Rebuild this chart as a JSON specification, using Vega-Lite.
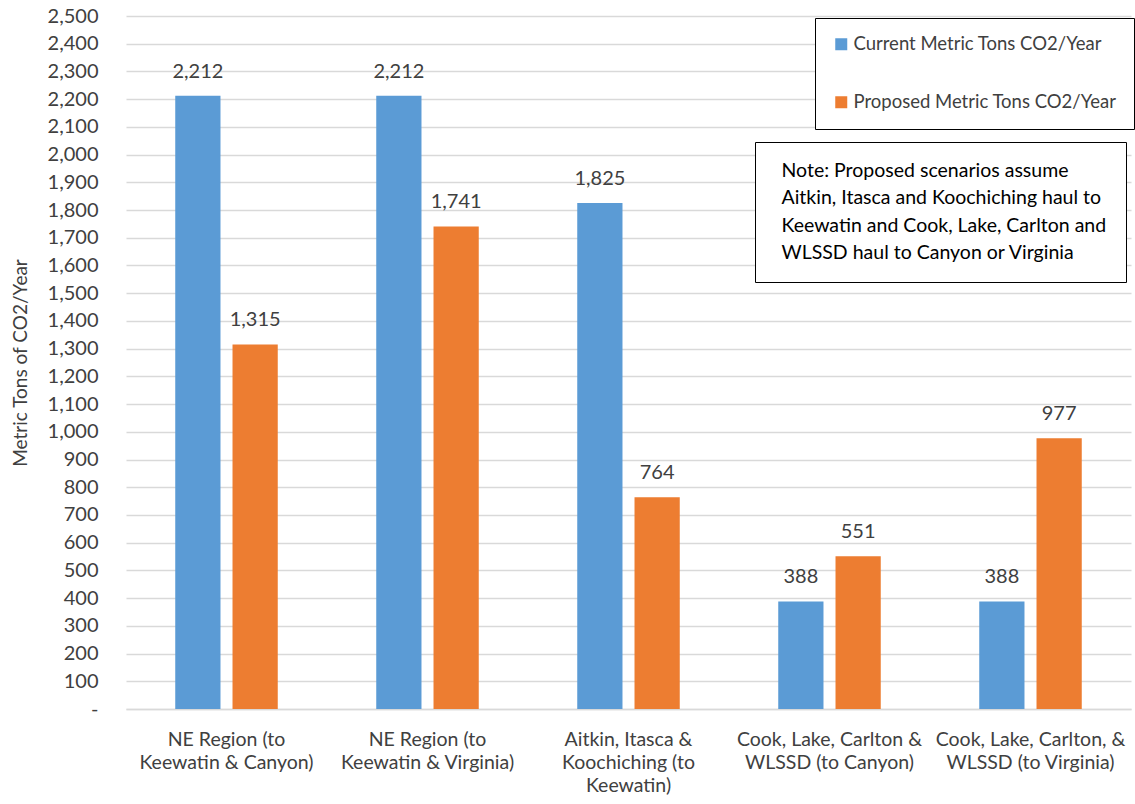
{
  "$schema": "https://vega.github.io/schema/vega-lite/v6.json",
  "width": 1005,
  "height": 693,
  "autosize": {"type": "none"},
  "padding": {"left": 126, "top": 16, "right": 4, "bottom": 95},
  "background": "white",
  "config": {
    "font": "Lato",
    "view": {"stroke": null}
  },
  "layer": [
    {
      "data": {
        "values": [
          {"scenario": "NE Region (to\nKeewatin & Canyon)", "series": "Current Metric Tons CO2/Year", "tons": 2212},
          {"scenario": "NE Region (to\nKeewatin & Canyon)", "series": "Proposed Metric Tons CO2/Year", "tons": 1315},
          {"scenario": "NE Region (to\nKeewatin & Virginia)", "series": "Current Metric Tons CO2/Year", "tons": 2212},
          {"scenario": "NE Region (to\nKeewatin & Virginia)", "series": "Proposed Metric Tons CO2/Year", "tons": 1741},
          {"scenario": "Aitkin, Itasca &\nKoochiching (to\nKeewatin)", "series": "Current Metric Tons CO2/Year", "tons": 1825},
          {"scenario": "Aitkin, Itasca &\nKoochiching (to\nKeewatin)", "series": "Proposed Metric Tons CO2/Year", "tons": 764},
          {"scenario": "Cook, Lake, Carlton &\nWLSSD (to Canyon)", "series": "Current Metric Tons CO2/Year", "tons": 388},
          {"scenario": "Cook, Lake, Carlton &\nWLSSD (to Canyon)", "series": "Proposed Metric Tons CO2/Year", "tons": 551},
          {"scenario": "Cook, Lake, Carlton, &\nWLSSD (to Virginia)", "series": "Current Metric Tons CO2/Year", "tons": 388},
          {"scenario": "Cook, Lake, Carlton, &\nWLSSD (to Virginia)", "series": "Proposed Metric Tons CO2/Year", "tons": 977}
        ]
      },
      "encoding": {
        "x": {
          "field": "scenario",
          "type": "nominal",
          "sort": null,
          "title": null,
          "scale": {"paddingInner": 0.49, "paddingOuter": 0.245},
          "axis": {
            "labelExpr": "split(datum.value, '\\n')",
            "labelAngle": 0,
            "labelFontSize": 19.5,
            "labelColor": "#404040",
            "labelLineHeight": 23,
            "labelPadding": 21,
            "labelLimit": 0,
            "ticks": false,
            "domain": true,
            "domainColor": "#d9d9d9",
            "domainWidth": 1.5,
            "grid": false
          }
        },
        "xOffset": {
          "field": "series",
          "type": "nominal",
          "scale": {"paddingInner": 0.21, "paddingOuter": 0}
        },
        "y": {
          "field": "tons",
          "type": "quantitative",
          "title": "Metric Tons of CO2/Year",
          "scale": {"domain": [0, 2500], "nice": false},
          "axis": {
            "values": [0, 100, 200, 300, 400, 500, 600, 700, 800, 900, 1000, 1100, 1200, 1300, 1400, 1500, 1600, 1700, 1800, 1900, 2000, 2100, 2200, 2300, 2400, 2500],
            "labelExpr": "datum.value === 0 ? '-\u00a0\u00a0\u00a0\u00a0' : format(datum.value, ',')",
            "labelFontSize": 20,
            "labelColor": "#404040",
            "labelPadding": 28,
            "ticks": false,
            "domain": false,
            "grid": true,
            "gridColor": "#d9d9d9",
            "gridWidth": 1.5,
            "titleFontSize": 19,
            "titleFontWeight": "normal",
            "titleColor": "#404040",
            "titlePadding": 17
          }
        }
      },
      "layer": [
        {
          "mark": {"type": "bar"},
          "encoding": {
            "color": {
              "field": "series",
              "type": "nominal",
              "scale": {"range": ["#5b9bd5", "#ed7d31"]},
              "legend": {
                "orient": "none",
                "legendX": 689,
                "legendY": 2,
                "title": null,
                "symbolType": "square",
                "symbolSize": 144,
                "symbolStrokeWidth": 0,
                "labelFontSize": 18.5,
                "labelColor": "#404040",
                "labelLimit": 0,
                "labelOffset": 3,
                "rowPadding": 39,
                "padding": 17,
                "strokeColor": "black",
                "fillColor": "white"
              }
            }
          }
        },
        {
          "mark": {"type": "text", "baseline": "bottom", "dy": -14, "fontSize": 20, "color": "#404040"},
          "encoding": {
            "text": {"field": "tons", "type": "quantitative", "format": ",.0f"}
          }
        }
      ]
    },
    {
      "data": {
        "values": [
          {"line": "Note: Proposed scenarios assume"},
          {"line": "Aitkin, Itasca and Koochiching haul to"},
          {"line": "Keewatin and Cook, Lake, Carlton and"},
          {"line": "WLSSD haul to Canyon or Virginia"}
        ]
      },
      "mark": {"type": "text", "opacity": 0},
      "encoding": {
        "opacity": {
          "field": "line",
          "type": "ordinal",
          "sort": null,
          "legend": {
            "orient": "none",
            "legendX": 629,
            "legendY": 126,
            "title": null,
            "symbolSize": 0,
            "symbolStrokeWidth": 0,
            "symbolOpacity": 0,
            "labelOffset": -12,
            "labelFontSize": 19.5,
            "labelColor": "black",
            "labelLimit": 0,
            "rowPadding": 6.5,
            "padding": 19,
            "strokeColor": "black",
            "fillColor": "white"
          }
        }
      }
    }
  ]
}
